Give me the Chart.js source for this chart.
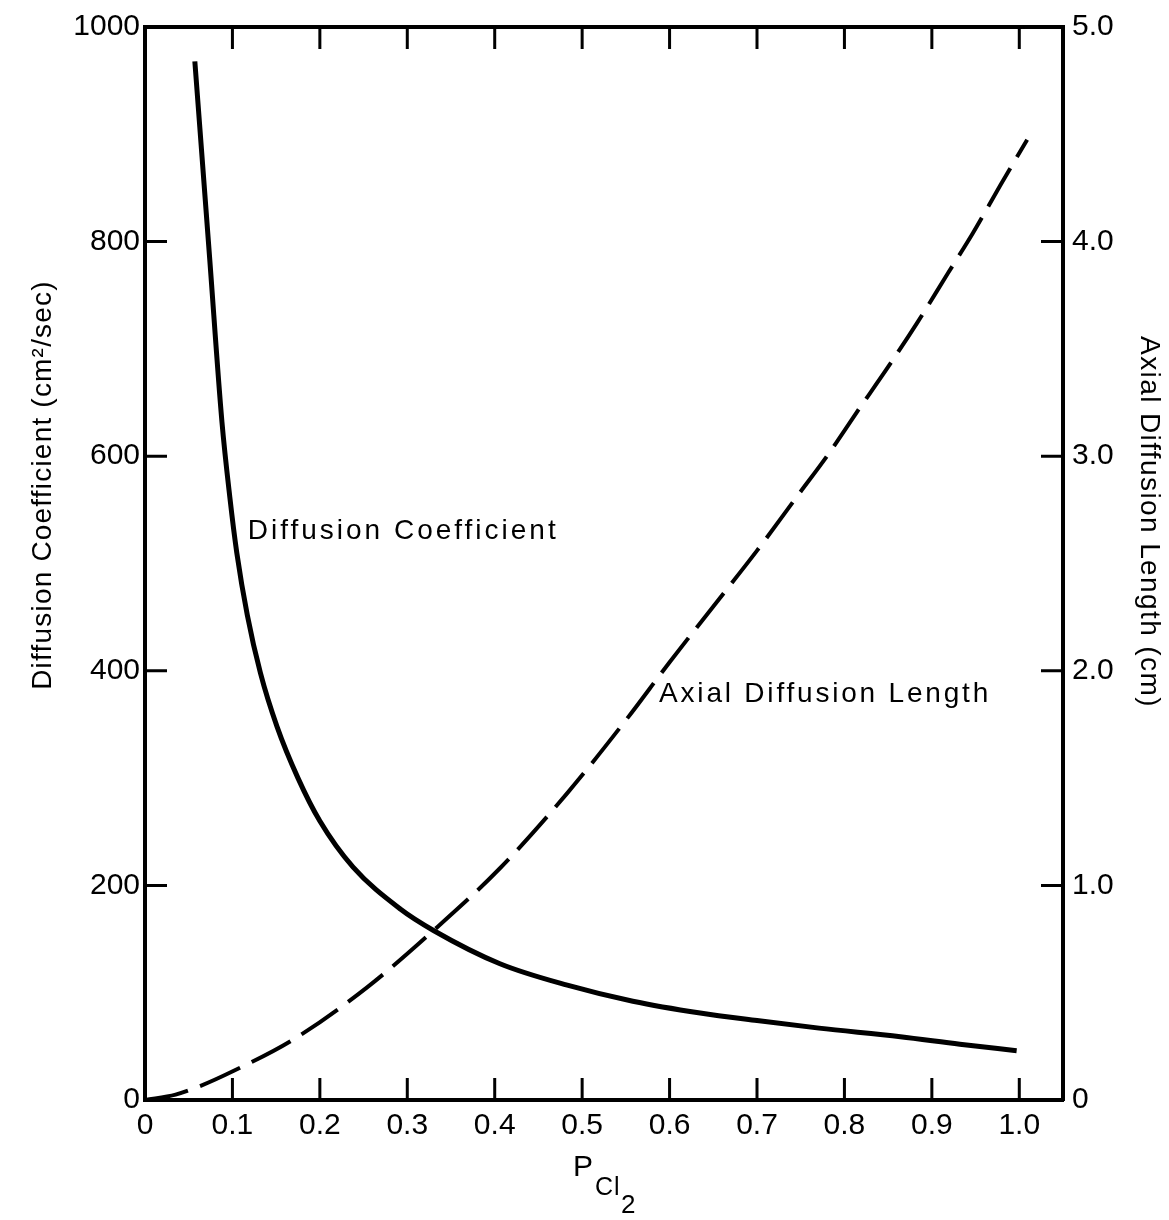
<!DOCTYPE html>
<html>
<head>
<meta charset="utf-8">
<script src="https://cdn.jsdelivr.net/npm/chart.js@4.4.1/dist/chart.umd.min.js"></script>
<style>
  html, body { margin: 0; padding: 0; background: #fff; }
  canvas { display: block; }
</style>
</head>
<body>
<canvas id="fig" width="1169" height="1220"></canvas>
<script>
// ── DATA ─────────────────────────────────────────
// Diffusion coefficient (cm²/sec) vs P_Cl2  — left axis
const coefP   = [0.057, 0.074, 0.088, 0.097, 0.105, 0.117, 0.132, 0.151, 0.175, 0.200, 0.238, 0.292, 0.330, 0.406, 0.483, 0.558, 0.635, 0.700, 0.771, 0.864, 0.932, 0.997];
const coefVal = [968,   784,   632,   562,   510,   452,   398,   348,   300,   260,   217,   178,   158,   127,   107,   92,    81,    74,    67,    59,    52,    46];

// Axial diffusion length (cm) vs P_Cl2 — right axis
const axialP   = [0, 0.035, 0.063, 0.101, 0.169, 0.254, 0.330, 0.406, 0.483, 0.550, 0.600, 0.650, 0.700, 0.749, 0.780, 0.815, 0.849, 0.883, 0.918, 0.947, 0.978, 1.009];
const axialLen = [0, 0.025, 0.065, 0.135, 0.28,  0.525, 0.79,  1.08,  1.43,  1.77,  2.04,  2.30,  2.56,  2.83,  3.00,  3.21,  3.41,  3.62,  3.85,  4.04,  4.26,  4.475];

// tick values + labels
const xTicks   = [0, 0.1, 0.2, 0.3, 0.4, 0.5, 0.6, 0.7, 0.8, 0.9, 1.0];
const xLabels  = ['0', '0.1', '0.2', '0.3', '0.4', '0.5', '0.6', '0.7', '0.8', '0.9', '1.0'];
const yTicks   = [0, 200, 400, 600, 800, 1000];
const yLabels  = ['0', '200', '400', '600', '800', '1000'];
const y2Ticks  = [0, 1, 2, 3, 4, 5];
const y2Labels = ['0', '1.0', '2.0', '3.0', '4.0', '5.0'];

const FONT = "'Liberation Sans', Arial, sans-serif";

// ── helpers ──────────────────────────────────────
function fixTicks(values) {
  return scale => { scale.ticks = values.map(v => ({ value: v })); };
}
function spacedText(ctx, text, x, y, size, spacing, align) {
  ctx.font = `${size}px ${FONT}`;
  ctx.letterSpacing = spacing + 'px';
  ctx.textAlign = align || 'left';
  ctx.fillText(text, x, y);
  ctx.letterSpacing = '0px';
}

// inward ticks, titles and curve labels
const figureText = {
  id: 'figureText',
  afterDraw(chart) {
    const { ctx, chartArea: a, scales } = chart;
    const TL = 22;
    ctx.save();
    ctx.strokeStyle = '#000';
    ctx.lineWidth = 3;
    ctx.beginPath();
    xTicks.slice(1).forEach(v => {
      const px = scales.x.getPixelForValue(v);
      ctx.moveTo(px, a.bottom); ctx.lineTo(px, a.bottom - TL);
      ctx.moveTo(px, a.top);    ctx.lineTo(px, a.top + TL);
    });
    yTicks.slice(1, -1).forEach(v => {
      const py = scales.y.getPixelForValue(v);
      ctx.moveTo(a.left, py); ctx.lineTo(a.left + TL, py);
    });
    y2Ticks.slice(1, -1).forEach(v => {
      const py = scales.y2.getPixelForValue(v);
      ctx.moveTo(a.right, py); ctx.lineTo(a.right - TL, py);
    });
    ctx.stroke();

    ctx.fillStyle = '#000';
    ctx.textBaseline = 'middle';

    // curve labels
    spacedText(ctx, 'Diffusion Coefficient', scales.x.getPixelForValue(0.1175), scales.y.getPixelForValue(530), 28, 3);
    spacedText(ctx, 'Axial Diffusion Length', scales.x.getPixelForValue(0.588), scales.y2.getPixelForValue(1.89), 28, 2.8);

    // left axis title
    ctx.save();
    ctx.translate(43, 485);
    ctx.rotate(-Math.PI / 2);
    ctx.font = `28px ${FONT}`;
    ctx.letterSpacing = '1.2px';
    ctx.textAlign = 'center';
    ctx.fillText('Diffusion Coefficient (cm²/sec)', 0, 0);
    ctx.restore();

    // right axis title
    ctx.save();
    ctx.translate(1149, 522);
    ctx.rotate(Math.PI / 2);
    ctx.font = `28px ${FONT}`;
    ctx.letterSpacing = '1.4px';
    ctx.textAlign = 'center';
    ctx.fillText('Axial Diffusion Length (cm)', 0, 0);
    ctx.restore();

    // x title P_Cl2
    ctx.textBaseline = 'alphabetic';
    spacedText(ctx, 'P', 573, 1176, 30, 0);
    spacedText(ctx, 'Cl', 595, 1195, 25, 1);
    spacedText(ctx, '2', 621, 1213, 26, 0);
    ctx.restore();
  }
};

const axisBorder = { display: true, color: '#000', width: 4 };
const noGrid = { display: true, drawOnChartArea: false, drawTicks: false };
const tickFont = { family: FONT, size: 30 };

new Chart(document.getElementById('fig'), {
  type: 'line',
  data: {
    datasets: [
      {
        label: 'Diffusion Coefficient',
        data: coefP.map((p, i) => ({ x: p, y: coefVal[i] })),
        xAxisID: 'x', yAxisID: 'y',
        borderColor: '#000', borderWidth: 5,
        pointRadius: 0, fill: false,
        cubicInterpolationMode: 'monotone'
      },
      {
        label: 'Axial Diffusion Length',
        data: axialP.map((p, i) => ({ x: p, y: axialLen[i] })),
        xAxisID: 'x', yAxisID: 'y2',
        borderColor: '#000', borderWidth: 4,
        borderDash: [44, 13],
        pointRadius: 0, fill: false,
        cubicInterpolationMode: 'monotone'
      }
    ]
  },
  options: {
    responsive: false,
    devicePixelRatio: 1,
    animation: false,
    layout: { padding: 0 },
    plugins: { legend: { display: false }, tooltip: { enabled: false } },
    scales: {
      x: {
        type: 'linear', position: 'bottom', min: 0, max: 1.05,
        afterBuildTicks: fixTicks(xTicks),
        afterFit: s => { s.height = 120; },
        ticks: { color: '#000', font: tickFont, padding: 8, maxRotation: 0, autoSkip: false,
                 callback: (v, i) => xLabels[i] },
        grid: noGrid, border: axisBorder
      },
      xTop: {
        type: 'linear', position: 'top', min: 0, max: 1.05,
        afterFit: s => { s.height = 24; },
        ticks: { display: false },
        grid: noGrid, border: axisBorder
      },
      y: {
        type: 'linear', position: 'left', min: 0, max: 1000,
        afterBuildTicks: fixTicks(yTicks),
        afterFit: s => { s.width = 145; },
        ticks: { color: '#000', font: tickFont, padding: 5, autoSkip: false,
                 callback: (v, i) => yLabels[i] },
        grid: noGrid, border: axisBorder
      },
      y2: {
        type: 'linear', position: 'right', min: 0, max: 5,
        afterBuildTicks: fixTicks(y2Ticks),
        afterFit: s => { s.width = 106; },
        ticks: { color: '#000', font: tickFont, padding: 9, autoSkip: false,
                 callback: (v, i) => y2Labels[i] },
        grid: noGrid, border: axisBorder
      }
    }
  },
  plugins: [figureText]
});
</script>
</body>
</html>
